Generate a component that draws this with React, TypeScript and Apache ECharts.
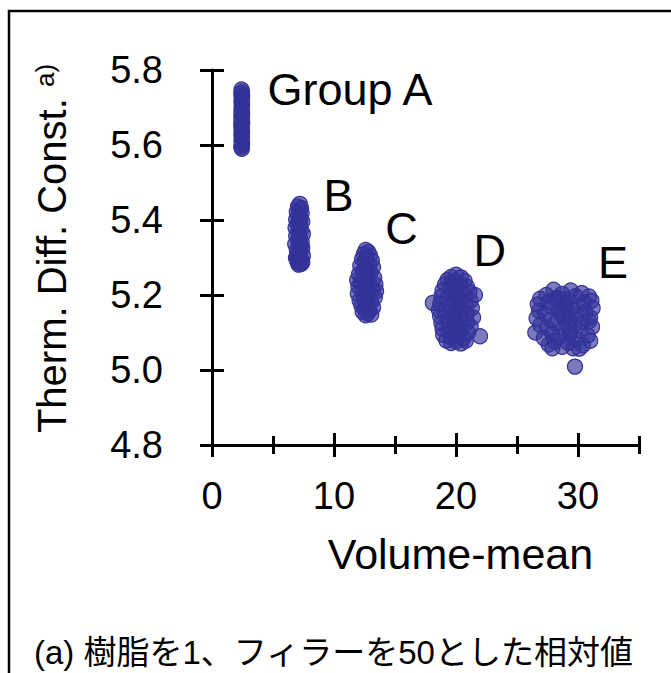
import React, { useEffect, useRef } from "react";
import * as echarts from "echarts";

const xTickLabels = [0, 10, 20, 30];
const xMinorTicks = [5, 15, 25, 35];
const yTickLabels = [4.8, 5.0, 5.2, 5.4, 5.6, 5.8];

const groupA = [
  [2.42, 5.748], [2.46, 5.742], [2.4, 5.737], [2.48, 5.731], [2.43, 5.726], [2.45, 5.72], [2.41, 5.714],
  [2.47, 5.708], [2.43, 5.702], [2.45, 5.697], [2.42, 5.692], [2.44, 5.688], [2.47, 5.683], [2.41, 5.679],
  [2.43, 5.675], [2.46, 5.671], [2.42, 5.667], [2.44, 5.663], [2.48, 5.659], [2.4, 5.655], [2.43, 5.651],
  [2.45, 5.647], [2.42, 5.643], [2.44, 5.638], [2.47, 5.634], [2.41, 5.629], [2.43, 5.624], [2.46, 5.619],
  [2.42, 5.614], [2.44, 5.609], [2.47, 5.604], [2.43, 5.599], [2.4, 5.594], [2.45, 5.59],
];

const groupB = [
  [7.2, 5.443], [7.05, 5.436], [7.3, 5.432], [7.15, 5.428], [6.95, 5.421], [7.35, 5.418], [7.1, 5.412],
  [7.25, 5.405], [6.9, 5.401], [7.4, 5.396], [7.0, 5.39], [7.2, 5.386], [6.85, 5.379], [7.3, 5.374],
  [7.1, 5.369], [7.45, 5.363], [6.9, 5.358], [7.2, 5.352], [7.05, 5.347], [7.35, 5.341], [6.82, 5.336],
  [7.15, 5.331], [7.4, 5.326], [6.95, 5.32], [7.25, 5.315], [7.05, 5.31], [7.45, 5.305], [6.88, 5.299],
  [7.2, 5.296], [7.35, 5.292], [7.0, 5.289], [7.15, 5.285], [7.3, 5.283], [7.1, 5.281], [7.4, 5.287],
  [6.98, 5.3], [7.22, 5.4], [7.12, 5.36], [7.28, 5.33],
];

const groupC = [
  [12.6, 5.32], [12.8, 5.315], [12.45, 5.309], [12.95, 5.305], [12.7, 5.3], [12.3, 5.296], [13.1, 5.292],
  [12.55, 5.288], [12.85, 5.283], [12.15, 5.278], [13.2, 5.274], [12.65, 5.27], [12.4, 5.265], [13.0, 5.26],
  [12.05, 5.255], [12.75, 5.251], [13.3, 5.246], [12.5, 5.241], [12.2, 5.236], [12.9, 5.232], [13.4, 5.227],
  [12.0, 5.222], [12.6, 5.218], [13.15, 5.213], [12.35, 5.208], [11.95, 5.203], [12.8, 5.199], [13.35, 5.194],
  [12.45, 5.19], [12.1, 5.185], [13.05, 5.18], [12.7, 5.176], [12.25, 5.171], [13.2, 5.167], [12.55, 5.163],
  [12.9, 5.159], [12.35, 5.155], [12.75, 5.151], [13.05, 5.148], [12.6, 5.146], [13.45, 5.21], [11.9, 5.24],
  [12.7, 5.262], [12.65, 5.228], [12.72, 5.196], [12.62, 5.205],
];

const groupD = [
  [20.0, 5.254], [19.6, 5.248], [20.4, 5.247], [19.3, 5.24], [20.7, 5.238], [19.9, 5.236], [19.1, 5.228],
  [20.3, 5.229], [20.9, 5.222], [19.5, 5.221], [18.9, 5.212], [20.1, 5.214], [21.1, 5.208], [19.7, 5.205],
  [20.6, 5.2], [18.8, 5.196], [21.55, 5.2], [19.3, 5.192], [20.2, 5.19], [21.2, 5.185], [18.1, 5.179],
  [19.9, 5.182], [18.7, 5.176], [20.8, 5.174], [19.5, 5.17], [21.3, 5.165], [18.6, 5.16], [20.3, 5.161],
  [19.1, 5.155], [20.9, 5.15], [19.8, 5.148], [18.7, 5.143], [21.4, 5.14], [20.4, 5.136], [19.3, 5.132],
  [18.8, 5.125], [20.9, 5.127], [19.9, 5.121], [21.2, 5.116], [18.9, 5.11], [20.4, 5.108], [19.4, 5.104],
  [21.0, 5.1], [18.95, 5.094], [20.1, 5.093], [21.97, 5.09], [19.6, 5.086], [20.6, 5.084], [19.2, 5.079],
  [20.0, 5.076], [20.8, 5.078], [19.6, 5.072], [20.4, 5.071],
  [19.95, 5.2], [20.05, 5.16], [19.85, 5.13], [20.15, 5.185], [19.75, 5.145], [20.25, 5.115],
];

const groupE = [
  [28.0, 5.214], [29.4, 5.212], [30.3, 5.205], [27.4, 5.2], [28.7, 5.203], [30.9, 5.196], [29.8, 5.197],
  [26.9, 5.19], [28.3, 5.192], [31.1, 5.185], [29.1, 5.188], [27.6, 5.182], [30.5, 5.18], [26.7, 5.175],
  [28.9, 5.176], [30.0, 5.172], [27.9, 5.168], [31.2, 5.165], [29.5, 5.164], [26.8, 5.158], [28.4, 5.158],
  [30.6, 5.155], [27.3, 5.15], [29.9, 5.148], [28.7, 5.146], [31.0, 5.14], [26.6, 5.138], [29.3, 5.136],
  [27.8, 5.133], [30.4, 5.128], [28.2, 5.125], [26.9, 5.12], [29.7, 5.12], [31.15, 5.115], [27.5, 5.112],
  [28.8, 5.11], [30.2, 5.105], [26.5, 5.1], [29.4, 5.098], [27.9, 5.095], [30.8, 5.092], [28.5, 5.088],
  [27.2, 5.085], [29.9, 5.082], [31.0, 5.078], [28.1, 5.076], [29.2, 5.072], [27.6, 5.068], [30.4, 5.066],
  [28.7, 5.062], [29.6, 5.058], [27.9, 5.058], [30.1, 5.057], [29.75, 5.009], [30.9, 5.13], [28.1, 5.19],
  [28.9, 5.14], [29.1, 5.12], [28.6, 5.16], [29.3, 5.1], [28.95, 5.17],
];

const groupNames = ["Group A", "B", "C", "D", "E"];
const groupLabelAnchors = [
  [4.5, 5.749],
  [9.1, 5.465],
  [14.15, 5.378],
  [21.4, 5.32],
  [31.6, 5.288],
];

const yAxisTitle = "Therm. Diff. Const.";
const yAxisSup = "a)";
const xAxisTitle = "Volume-mean";
const footnote = "(a) 樹脂を1、フィラーを50とした相対値";

const FONT = "'Liberation Sans', Arial, sans-serif";
const CJK_FONT = "'Liberation Sans', 'Noto Sans CJK JP', sans-serif";
const BLUE = "#333399";

export default function App() {
  const ref = useRef<HTMLDivElement>(null);

  useEffect(() => {
    if (!ref.current) return;
    const chart = echarts.init(ref.current, null, { renderer: "svg" });

    const axisLine = { show: true, lineStyle: { color: "#000", width: 3 } };
    const baseX = {
      type: "value",
      min: 0,
      max: 35,
      interval: 5,
      position: "bottom",
      splitLine: { show: false },
    };
    const baseY = {
      type: "value",
      min: 4.8,
      max: 5.8,
      interval: 0.2,
      position: "left",
      splitLine: { show: false },
    };

    const clusterSeries = [groupA, groupB, groupC, groupD, groupE].map((d, i) => ({
      type: "scatter",
      name: groupNames[i],
      data: d,
      symbol: "circle",
      symbolSize: 15,
      itemStyle: { color: "rgba(51,51,153,0.65)", borderColor: BLUE, borderWidth: 1.2, opacity: 1 },
      emphasis: { disabled: true },
      z: 3,
    }));

    chart.setOption({
      animation: false,
      backgroundColor: "#fff",
      grid: { left: 212, top: 70, width: 427, height: 375, containLabel: false },
      xAxis: [
        {
          ...baseX,
          axisLine,
          axisTick: { show: true, customValues: xTickLabels, length: 12, lineStyle: { width: 3, color: "#000" } },
          axisLabel: {
            show: true,
            customValues: xTickLabels,
            margin: 32,
            fontSize: 38,
            fontFamily: FONT,
            color: "#000",
          },
          name: xAxisTitle,
          nameLocation: "middle",
          nameGap: 87,
          nameTextStyle: { fontSize: 43, fontFamily: FONT, color: "#000", padding: [0, 0, 0, 70] },
        },
        {
          ...baseX,
          axisLine: { show: false },
          axisTick: { show: true, inside: true, customValues: xTickLabels, length: 12, lineStyle: { width: 3, color: "#000" } },
          axisLabel: { show: false },
        },
        {
          ...baseX,
          axisLine: { show: false },
          axisTick: { show: true, customValues: xMinorTicks, length: 9, lineStyle: { width: 3, color: "#000" } },
          axisLabel: { show: false },
        },
        {
          ...baseX,
          axisLine: { show: false },
          axisTick: { show: true, inside: true, customValues: xMinorTicks, length: 9, lineStyle: { width: 3, color: "#000" } },
          axisLabel: { show: false },
        },
      ],
      yAxis: [
        {
          ...baseY,
          axisLine,
          axisTick: { show: true, customValues: yTickLabels, length: 12, lineStyle: { width: 3, color: "#000" } },
          axisLabel: {
            show: true,
            customValues: yTickLabels,
            margin: 49,
            fontSize: 38,
            fontFamily: FONT,
            color: "#000",
            formatter: (v: number) => v.toFixed(1),
          },
          name: "{m|" + yAxisTitle + " }{s|" + yAxisSup + "}",
          nameLocation: "middle",
          nameRotate: 90,
          nameGap: 140,
          nameTextStyle: {
            color: "#000",
            fontFamily: FONT,
            padding: [0, 0, 0, 18],
            rich: {
              m: { fontSize: 40, fontFamily: FONT, color: "#000" },
              s: { fontSize: 26, fontFamily: FONT, color: "#000", verticalAlign: "top" },
            },
          },
        },
        {
          ...baseY,
          axisLine: { show: false },
          axisTick: { show: true, inside: true, customValues: yTickLabels, length: 12, lineStyle: { width: 3, color: "#000" } },
          axisLabel: { show: false },
        },
      ],
      series: [
        ...clusterSeries,
        {
          type: "scatter",
          name: "labels",
          data: groupLabelAnchors.map((p, i) => [p[0], p[1], groupNames[i]]),
          symbolSize: 1,
          itemStyle: { color: "rgba(0,0,0,0)", opacity: 1 },
          emphasis: { disabled: true },
          label: {
            show: true,
            position: "right",
            distance: 0,
            formatter: (p: any) => p.data[2],
            fontSize: 45,
            fontFamily: FONT,
            color: "#000",
          },
          z: 4,
        },
      ],
      graphic: [
        {
          type: "rect",
          shape: { x: 9, y: 11, width: 720, height: 720 },
          style: { fill: "none", stroke: "#000", lineWidth: 2.5 },
          silent: true,
        },
        {
          type: "text",
          left: 34,
          top: 636,
          style: { text: footnote, fontSize: 33, fontFamily: CJK_FONT, fill: "#000" },
          silent: true,
        },
      ],
    });

    return () => chart.dispose();
  }, []);

  return (
    <div
      ref={ref}
      style={{ position: "fixed", left: 0, top: 0, width: 671, height: 673, background: "#fff" }}
    />
  );
}
